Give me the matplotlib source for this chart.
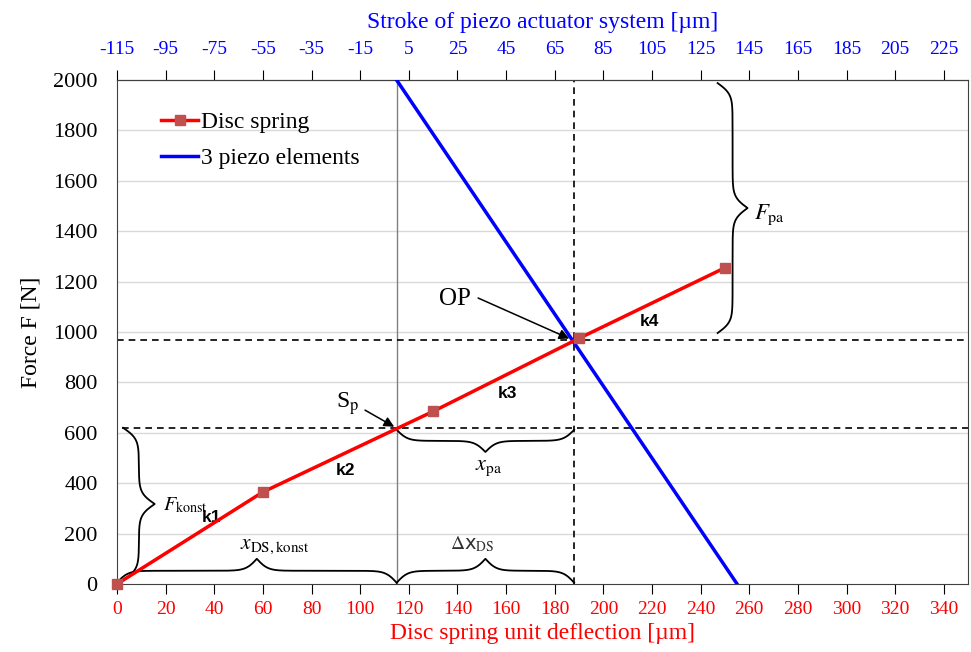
import matplotlib.pyplot as plt
import numpy as np

# disc spring characteristic (deflection in um, force in N)
spring_x = [0, 60, 130, 190, 250]
spring_f = [0, 365, 685, 975, 1255]

# piezo stack (3 elements), plotted against the same deflection scale
piezo_x = [115, 255]
piezo_f = [2000, 0]

x_ticks = list(range(0, 341, 20))
y_ticks = list(range(0, 2001, 200))
top_offset = 115  # stroke = deflection - 115
top_ticks = list(range(-115, 226, 20))

sp_x, sp_f = 115, 620      # preload point
op_x, op_f = 188, 970      # operating point

plt.rcParams['font.family'] = ['Liberation Serif', 'DejaVu Serif']
plt.rcParams['mathtext.fontset'] = 'stix'
plt.rcParams['axes.unicode_minus'] = False


def brace(ax, start, end, pos, depth, vertical=False, curl_px=5.5):
    """Draw a curly brace from start to end, base at pos, tip at pos+depth"""
    if vertical:
        px_per_unit = ax.bbox.height / np.diff(ax.get_ylim())[0]
    else:
        px_per_unit = ax.bbox.width / np.diff(ax.get_xlim())[0]
    length_px = abs(end - start) * px_per_unit
    beta = length_px / curl_px
    s = np.linspace(0, 1, 801)
    half = s[:401]
    h = (1 / (1 + np.exp(-beta * (half - half[0])))
         + 1 / (1 + np.exp(-beta * (half - half[-1]))))
    h = (h - h[0]) / (h[-1] - h[0])
    h = np.concatenate((h, h[-2::-1]))
    along = start + (end - start) * s
    across = pos + depth * h
    if vertical:
        ax.plot(across, along, color='black', lw=1.3, clip_on=False, zorder=4)
    else:
        ax.plot(along, across, color='black', lw=1.3, clip_on=False, zorder=4)


def pointer(ax, x0, y0, x1, y1):
    ax.annotate('', xy=(x1, y1), xytext=(x0, y0),
                arrowprops=dict(arrowstyle='-|>', color='black', lw=1.1,
                                mutation_scale=15, shrinkA=0, shrinkB=0))


fig = plt.figure(figsize=(9.71, 6.52), dpi=100)
ax = fig.add_axes([0.1205, 0.1043, 0.8765, 0.7729])

ax.set_xlim(0, 350)
ax.set_ylim(0, 2000)

for y in y_ticks[1:-1]:
    ax.axhline(y, color='#d9d9d9', lw=1, zorder=0)

# reference lines
ax.axvline(sp_x, color='#808080', lw=1, zorder=1)
ax.plot([op_x, op_x], [0, 2000], color='black', lw=1.2, dashes=(4, 3), zorder=1)
ax.plot([2, 350], [sp_f, sp_f], color='black', lw=1.2, dashes=(4, 3), zorder=1)
ax.plot([0, 350], [op_f, op_f], color='black', lw=1.2, dashes=(4, 3), zorder=1)

ax.plot(spring_x, spring_f, color='red', lw=2.5, marker='s', markersize=7,
        markerfacecolor='#C0504D', markeredgecolor='#C0504D', label='Disc spring',
        zorder=5, clip_on=False)
ax.plot(piezo_x, piezo_f, color='blue', lw=2.5, label='3 piezo elements', zorder=3)

ax.set_xticks(x_ticks)
ax.set_yticks(y_ticks)
ax.tick_params(axis='x', labelcolor='red', color='black', labelsize=14, direction='out',
               length=7, pad=5)
ax.tick_params(axis='y', labelsize=16, length=0, pad=14)
ax.set_xlabel('Disc spring unit deflection [µm]', color='red', fontsize=17, labelpad=4)
ax.set_ylabel('Force F [N]', fontsize=17, labelpad=8)

top = ax.secondary_xaxis('top', functions=(lambda v: v - top_offset, lambda v: v + top_offset))
top.set_xticks(top_ticks)
top.tick_params(axis='x', labelcolor='blue', color='black', labelsize=14, direction='out',
                length=7, pad=9)
top.set_xlabel('Stroke of piezo actuator system [µm]', color='blue', fontsize=17, labelpad=9)

for sp in ax.spines.values():
    sp.set_color('#404040')

leg = ax.legend(loc='upper left', bbox_to_anchor=(0.027, 0.979), frameon=False, fontsize=17,
                handlelength=1.55, handletextpad=0.15, labelspacing=0.6)

# segment stiffness labels
for txt, x, y in [('k1', 39, 262), ('k2', 94, 452), ('k3', 160.5, 758), ('k4', 219, 1040)]:
    ax.text(x, y, txt, fontsize=12.5, fontweight='bold', family='Liberation Sans',
            ha='center', va='center')

ax.text(95, 715, 'S$_\\mathrm{p}$', fontsize=17, ha='center', va='center')
pointer(ax, 102, 690, sp_x - 1, sp_f + 4)
ax.text(139, 1130, 'OP', fontsize=18, ha='center', va='center')
pointer(ax, 148.5, 1135, op_x - 2, op_f + 4)

# braces
brace(ax, 15, sp_f, 2.5, 13, vertical=True)
ax.text(19, 313, '$F_{\\mathrm{konst}}$', fontsize=14.5, ha='left', va='center')

brace(ax, 0, sp_x, 5, 95)
ax.text(65, 150, '$x_{\\mathrm{DS,konst}}$', fontsize=15.5, ha='center', va='center')

brace(ax, sp_x, op_x, 5, 95)
ax.text(146, 158, '$\\Delta$x$_\\mathrm{DS}$', fontsize=14, family='DejaVu Sans',
        ha='center', va='center', color='#303030')

brace(ax, sp_x, op_x, 612, -88)
ax.text(153, 460, '$x_{\\mathrm{pa}}$', fontsize=16, ha='center', va='center')

brace(ax, 996, 1988, 247, 12.3, vertical=True)
ax.text(262, 1464, '$F_{\\mathrm{pa}}$', fontsize=16.5, ha='left', va='center')

fig.savefig('out.png', dpi=100)
